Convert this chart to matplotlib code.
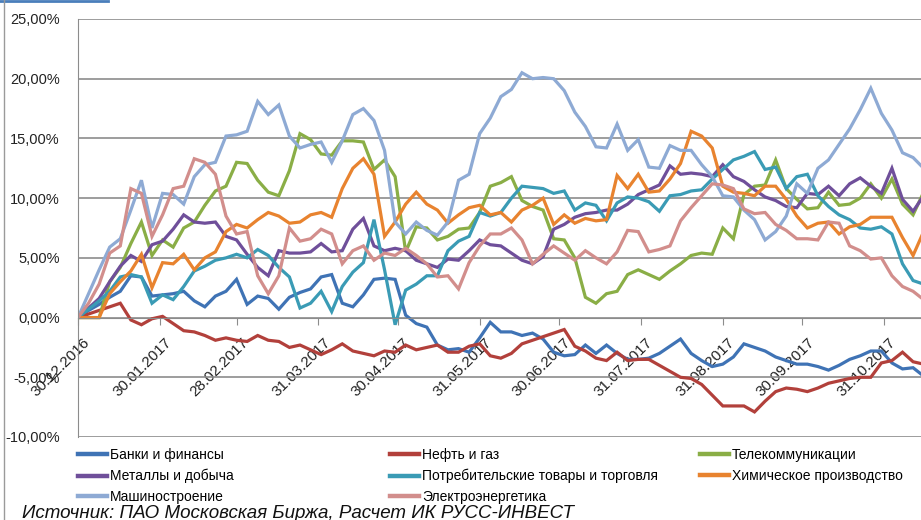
import matplotlib
matplotlib.use('Agg')
import pandas as pd
from matplotlib import pyplot as plt
from matplotlib.ticker import FuncFormatter
from matplotlib.lines import Line2D
from matplotlib.transforms import ScaledTranslation

###--- Data: cumulative change, %, sampled every 4 days from 30.12.2016 ---###
dates=pd.date_range('2016-12-30',periods=81,freq='4D')

banki=[0,0.6,1.1,1.7,2.2,3.5,3.4,1.8,1.9,2.0,2.2,1.4,0.9,1.8,2.2,3.2,1.1,1.8,1.6,0.7,
       1.7,2.1,2.4,3.4,3.6,1.2,0.9,1.9,3.2,3.3,3.2,0.2,-0.5,-0.8,-2.3,-2.7,-2.6,-2.9,-1.7,-0.4,
       -1.2,-1.2,-1.5,-1.3,-1.8,-2.9,-3.2,-3.1,-2.3,-3.0,-2.3,-3.0,-3.5,-3.5,-3.4,-3.0,-2.4,-1.8,-3.0,-3.6,
       -4.1,-3.9,-3.3,-2.2,-2.5,-2.8,-3.3,-3.6,-3.9,-3.9,-4.1,-4.4,-4.0,-3.5,-3.2,-2.8,-2.8,-3.8,-4.3,-4.2,-4.9]
neft=[0,0.3,0.6,0.9,1.2,-0.2,-0.6,-0.1,0.1,-0.5,-1.1,-1.2,-1.5,-1.9,-1.7,-1.9,-2.0,-1.5,-1.9,-2.0,
      -2.5,-2.3,-2.7,-3.1,-2.7,-2.2,-2.8,-3.0,-3.2,-2.8,-2.9,-2.3,-2.7,-2.5,-2.3,-2.9,-2.9,-2.4,-2.2,-3.2,
      -3.4,-3.0,-2.2,-1.9,-1.6,-1.3,-1.0,-2.4,-2.8,-3.4,-3.6,-2.9,-3.6,-3.5,-3.5,-4.0,-4.5,-5.0,-5.1,-5.6,
      -6.5,-7.4,-7.4,-7.4,-7.9,-7.0,-6.2,-5.9,-6.0,-6.2,-5.9,-5.5,-5.3,-5.1,-5.0,-5.0,-3.8,-3.6,-2.9,-3.7,-3.9]
telekom=[0,0,0,3.0,4.2,6.2,8.0,5.2,6.5,5.9,7.5,8.0,9.4,10.6,11.0,13.0,12.9,11.5,10.5,10.2,
         12.3,15.4,14.9,13.7,13.6,14.8,14.8,14.7,12.4,13.2,11.8,5.5,7.6,7.5,6.5,6.8,7.4,7.5,8.8,11.0,
         11.3,11.8,9.8,9.3,9.0,6.6,6.5,5.0,1.7,1.2,2.0,2.2,3.6,4.0,3.6,3.2,3.9,4.5,5.2,5.4,
         5.3,7.5,6.6,10.3,11.0,11.1,13.2,10.8,9.9,9.1,9.2,10.5,9.4,9.5,10.0,11.2,10.0,11.6,9.5,8.6,10.5]
metally=[0,0.8,1.6,3.0,4.3,5.2,4.7,6.1,6.4,7.4,8.6,8.0,7.9,8.0,6.8,6.5,5.3,4.2,3.5,5.6,
         5.4,5.4,5.5,6.2,5.5,5.6,7.4,8.3,6.0,5.6,5.8,5.6,4.8,4.5,4.2,4.9,4.8,5.6,6.5,6.1,
         6.0,5.4,4.8,4.5,5.1,7.4,7.8,8.4,8.7,8.8,9.0,9.0,9.5,10.3,10.7,11.1,12.7,12.0,12.1,12.0,
         11.8,12.8,11.8,11.4,10.7,10.1,9.8,9.3,9.2,10.4,10.3,11.0,10.2,11.2,11.7,11.0,10.4,12.5,9.9,8.9,10.2]
potreb=[0,0.7,1.4,2.2,3.4,3.6,3.4,1.2,1.9,1.5,2.6,3.9,4.3,4.8,5.0,5.3,5.0,5.7,5.2,4.2,
        3.4,0.8,1.2,2.2,0.5,2.6,3.8,4.6,8.2,4.0,-0.6,2.3,2.8,3.5,3.5,5.6,6.4,6.8,8.8,8.5,
        8.8,10.0,11.0,10.9,10.8,10.4,10.6,9.0,9.6,9.4,8.1,9.6,10.1,10.0,9.7,8.9,10.2,10.3,10.6,10.7,
        11.6,12.4,13.2,13.5,13.9,12.4,12.6,10.8,11.8,12.0,10.2,9.3,8.6,8.2,7.5,7.4,7.6,7.0,4.5,3.1,2.8]
himiya=[0,0,0,2.0,3.0,3.9,5.3,2.5,4.6,4.5,5.3,4.0,5.0,5.5,7.2,7.8,7.5,8.2,8.8,8.5,
        7.9,8.0,8.6,8.8,8.4,10.8,12.5,13.3,12.0,6.8,8.0,9.5,10.5,9.5,9.0,7.9,8.6,9.2,9.4,8.6,
        8.8,8.0,9.0,9.4,10.0,7.8,8.6,7.9,8.3,8.1,8.2,11.9,10.8,12.0,10.5,10.6,11.6,12.9,15.6,15.2,
        14.2,11.0,10.5,10.4,10.2,11.0,11.0,9.9,8.5,7.5,7.9,8.0,7.0,7.6,7.8,8.4,8.4,8.4,6.7,5.2,7.2]
mash=[0,2.0,4.0,5.9,6.6,9.0,11.5,7.5,10.4,10.3,9.5,11.8,12.8,13.0,15.2,15.3,15.6,18.1,17.0,17.8,
      15.2,14.2,14.5,14.7,13.0,14.8,17.0,17.5,16.5,14.0,8.0,7.0,8.0,7.3,6.9,8.0,11.5,12.0,15.4,16.7,
      18.5,19.1,20.5,20.0,20.1,20.0,19.0,17.2,16.0,14.3,14.2,16.2,14.0,14.9,12.6,12.5,14.4,14.0,14.0,12.8,
      11.8,10.2,10.1,9.0,8.2,6.5,7.2,8.5,11.2,10.4,12.5,13.2,14.5,15.8,17.4,19.2,17.1,15.7,13.8,13.4,12.5]
elektro=[0,1.2,2.8,5.4,6.0,10.8,10.4,6.8,8.6,10.8,11.0,13.3,13.0,12.0,8.5,7.0,7.2,3.5,2.0,3.5,
         7.5,6.4,6.6,7.4,7.0,4.5,5.6,6.0,4.8,5.4,5.2,5.8,5.2,4.5,3.4,3.5,2.4,4.6,6.0,7.0,
         7.0,7.5,6.5,4.5,5.3,6.0,5.4,4.8,5.6,5.0,4.5,5.5,7.3,7.2,5.5,5.7,6.0,8.1,9.2,10.2,
         11.2,11.1,10.8,9.1,8.7,8.8,7.8,7.3,6.6,6.6,6.5,8.0,7.9,6.0,5.6,4.9,5.0,3.5,2.6,2.2,1.5]

nomi=["Банки и финансы","Нефть и газ","Телекоммуникации","Металлы и добыча",
      "Потребительские товары и торговля","Химическое производство","Машиностроение","Электроэнергетика"]
serie=[banki,neft,telekom,metally,potreb,himiya,mash,elektro]
colori=['#3f73b5','#b2403b','#8aae46','#6f4f9a','#3a9bb5','#e8832f','#8eaad4','#d28e8c']

tick_dates=['2016-12-30','2017-01-30','2017-02-28','2017-03-31','2017-04-30','2017-05-31',
            '2017-06-30','2017-07-31','2017-08-31','2017-09-30','2017-10-31']
tick_labels=['30.12.2016','30.01.2017','28.02.2017','31.03.2017','30.04.2017','31.05.2017',
             '30.06.2017','31.07.2017','31.08.2017','30.09.2017','31.10.2017']

plt.rcParams['font.family']=['Liberation Sans','DejaVu Sans']

###--- Plot ---###
fig=plt.figure(figsize=(9.21,5.2),dpi=100)
ax=fig.add_axes([78/921,1-437/520,1-78/921,(437-19)/520])
lines=[]
for k in range(8):
    l,=ax.plot(dates,serie[k],color=colori[k],lw=2.3,solid_joinstyle='miter')
    lines+=[l]

ax.set_xlim(pd.Timestamp('2016-12-30'),pd.Timestamp('2017-11-14'))
ax.set_ylim(-10,25)
ax.set_yticks(range(-10,30,5))
ax.yaxis.set_major_formatter(FuncFormatter(lambda v,p:('%.2f%%'%v).replace('.',',')))
ax.grid(axis='y',color='#8c8c8c',lw=1.2)
ax.set_axisbelow(True)
for s in ['top','right']:
    ax.spines[s].set_visible(False)
ax.spines['left'].set_color('#8c8c8c')
ax.spines['bottom'].set_color('#8c8c8c')
ax.spines['bottom'].set_position(('data',0))
ax.tick_params(axis='y',length=0,labelsize=10.5,pad=13,colors='#222222')
ax.tick_params(axis='x',length=5,color='#8c8c8c',labelsize=11,pad=2,labelcolor='#222222')
ax.set_xticks(pd.to_datetime(tick_dates))
ax.set_xticklabels(tick_labels,rotation=45,ha='right',va='top',rotation_mode='anchor')
for lbl in ax.get_xticklabels():
    lbl.set_transform(lbl.get_transform()+ScaledTranslation(5/100,-8/100,fig.dpi_scale_trans))

#- Legend in three columns -#
col_x=[78,390,700]
for c in range(3):
    idx=[i for i in range(8) if i%3==c]
    leg=fig.legend([lines[i] for i in idx],[nomi[i] for i in idx],loc='upper left',
                   bbox_to_anchor=(col_x[c]/921,1-448/520),frameon=False,borderpad=0,
                   borderaxespad=0,handlelength=2.1,handletextpad=0.2,labelspacing=0.5,
                   fontsize=10)
    for h in leg.legend_handles:
        h.set_linewidth(3.2)

fig.text(22/921,1-513/520,"Источник: ПАО Московская Биржа, Расчет ИК РУСС-ИНВЕСТ",
         fontsize=13.5,style='italic',va='center',ha='left',color='#111111')

#- screenshot border bits -#
fig.add_artist(Line2D([0,108/921],[1-1/520,1-1/520],color='#4a7ebb',lw=2,transform=fig.transFigure))
fig.add_artist(Line2D([4/921,4/921],[0,1],color='#9a9a9a',lw=1,transform=fig.transFigure))

plt.savefig("out.png")
plt.close()
